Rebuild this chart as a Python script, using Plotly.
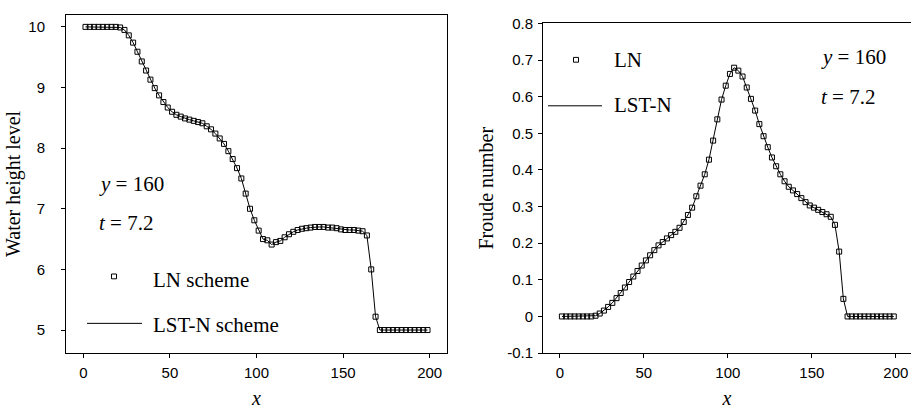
import plotly.graph_objects as go

# ---------------- data ----------------
x_pos = [1.25 + 2.5 * k for k in range(80)]

water_level = [
    10.0, 10.0, 10.0, 10.0, 10.0, 10.0, 10.0, 10.0,          # 1.25 .. 18.75
    9.99, 9.95, 9.86, 9.74, 9.59, 9.43, 9.28, 9.13,           # 21.25 .. 38.75
    8.99, 8.87, 8.76, 8.67, 8.60, 8.55, 8.52, 8.49,           # 41.25 .. 58.75
    8.47, 8.45, 8.43, 8.41, 8.36, 8.31, 8.24, 8.16,           # 61.25 .. 78.75
    8.07, 7.95, 7.82, 7.67, 7.50, 7.25, 7.00, 6.81,           # 81.25 .. 98.75
    6.64, 6.50, 6.48, 6.41, 6.45, 6.47, 6.53, 6.58,           # 101.25 .. 118.75
    6.62, 6.65, 6.67, 6.68, 6.69, 6.70, 6.70, 6.70,           # 121.25 .. 138.75
    6.69, 6.69, 6.68, 6.66, 6.65, 6.65, 6.65, 6.64,           # 141.25 .. 158.75
    6.63, 6.56, 6.00, 5.22, 5.0, 5.0, 5.0, 5.0,               # 161.25 .. 178.75
    5.0, 5.0, 5.0, 5.0, 5.0, 5.0, 5.0, 5.0,                   # 181.25 .. 198.75
]

froude = [
    0.0, 0.0, 0.0, 0.0, 0.0, 0.0, 0.0, 0.0,                   # 1.25 .. 18.75
    0.002, 0.008, 0.016, 0.026, 0.037, 0.050, 0.064, 0.079,   # 21.25 .. 38.75
    0.094, 0.109, 0.124, 0.139, 0.153, 0.167, 0.181, 0.194,   # 41.25 .. 58.75
    0.203, 0.213, 0.222, 0.231, 0.242, 0.258, 0.277, 0.297,   # 61.25 .. 78.75
    0.328, 0.357, 0.388, 0.428, 0.480, 0.538, 0.592, 0.630,   # 81.25 .. 98.75
    0.662, 0.679, 0.671, 0.655, 0.625, 0.594, 0.562, 0.525,   # 101.25 .. 118.75
    0.492, 0.462, 0.434, 0.410, 0.388, 0.369, 0.354, 0.344,   # 121.25 .. 138.75
    0.334, 0.323, 0.312, 0.303, 0.297, 0.291, 0.285, 0.279,   # 141.25 .. 158.75
    0.272, 0.250, 0.177, 0.048, 0.0, 0.0, 0.0, 0.0,           # 161.25 .. 178.75
    0.0, 0.0, 0.0, 0.0, 0.0, 0.0, 0.0, 0.0,                   # 181.25 .. 198.75
]

x_ticks = [0, 50, 100, 150, 200]
left_y_ticks = [5, 6, 7, 8, 9, 10]
right_y_ticks = [-0.1, 0, 0.1, 0.2, 0.3, 0.4, 0.5, 0.6, 0.7, 0.8]
right_y_labels = ["-0.1", "0", "0.1", "0.2", "0.3", "0.4", "0.5", "0.6", "0.7", "0.8"]

# ---------------- figure ----------------
W, H = 911, 409
SERIF = "Liberation Serif, Times New Roman, serif"
SANS = "Liberation Sans, Arial, sans-serif"

def px(x):
    return x / W

def py(y):
    return 1 - y / H

fig = go.Figure()

line_style = dict(color="black", width=1)
marker_style = dict(symbol="square-open", size=5, color="black", line=dict(width=1, color="black"))

# Left panel
fig.add_trace(go.Scatter(x=x_pos, y=water_level, mode="lines", line=line_style,
                         xaxis="x", yaxis="y", showlegend=False, hoverinfo="skip"))
fig.add_trace(go.Scatter(x=x_pos, y=water_level, mode="markers", marker=marker_style,
                         xaxis="x", yaxis="y", showlegend=False))
# Right panel
fig.add_trace(go.Scatter(x=x_pos, y=froude, mode="lines", line=line_style,
                         xaxis="x2", yaxis="y2", showlegend=False, hoverinfo="skip"))
fig.add_trace(go.Scatter(x=x_pos, y=froude, mode="markers", marker=marker_style,
                         xaxis="x2", yaxis="y2", showlegend=False))

axis_common = dict(
    showgrid=False, zeroline=False, showline=True, linecolor="black", linewidth=1,
    ticks="outside", ticklen=4, tickwidth=1, tickcolor="black",
    tickfont=dict(family=SANS, size=15, color="black"),
)

fig.update_layout(
    width=W, height=H,
    margin=dict(l=0, r=0, t=0, b=0),
    paper_bgcolor="white", plot_bgcolor="white",
    showlegend=False,
    xaxis=dict(axis_common, domain=[px(66), px(447)], range=[-10, 210], mirror=True,
               tickvals=x_ticks, anchor="y", ticklabelstandoff=2,
               title=dict(text="<i>x</i>", font=dict(family=SERIF, size=20, color="black"), standoff=10)),
    yaxis=dict(axis_common, domain=[py(359), py(6)], range=[4.62, 10.2], mirror=True,
               tickvals=left_y_ticks, anchor="x", ticklabelstandoff=13,
               title=dict(text="Water height level", font=dict(family=SERIF, size=20, color="black"), standoff=2)),
    xaxis2=dict(axis_common, domain=[px(543), 1.0], range=[-10, 209], mirror=True,
                tickvals=x_ticks, anchor="y2", ticklabelstandoff=2,
                title=dict(text="<i>x</i>", font=dict(family=SERIF, size=20, color="black"), standoff=10)),
    yaxis2=dict(axis_common, domain=[py(359), py(15)], range=[-0.1, 0.8],
                tickvals=right_y_ticks, ticktext=right_y_labels, anchor="x2", ticklabelstandoff=2,
                title=dict(text="Froude number", font=dict(family=SERIF, size=20, color="black"), standoff=8)),
)

# ---------------- text annotations & hand legends ----------------
txt_font = dict(family=SERIF, size=21, color="black")

def add_text(x, y, text):
    fig.add_annotation(xref="paper", yref="paper", x=px(x), y=py(y), text=text,
                       showarrow=False, xanchor="left", yanchor="middle", font=txt_font)

# Left panel labels
add_text(97, 183, "<i>y</i> = 160")
add_text(97, 223, "<i>t</i> = 7.2")
add_text(151, 283, "LN scheme")
add_text(151, 330, "LST-N scheme")
# Right panel labels
add_text(612, 53, "LN")
add_text(612, 100, "LST-N")
add_text(819, 50, "<i>y</i> = 160")
add_text(819, 92, "<i>t</i> = 7.2")

# legend glyphs
def add_square(cx, cy, s=5):
    fig.add_shape(type="rect", xref="paper", yref="paper",
                  x0=px(cx - s / 2), x1=px(cx + s / 2), y0=py(cy + s / 2), y1=py(cy - s / 2),
                  line=dict(color="black", width=1), fillcolor="white")

def add_hline(x0, x1, y):
    fig.add_shape(type="line", xref="paper", yref="paper",
                  x0=px(x0), x1=px(x1), y0=py(y), y1=py(y),
                  line=dict(color="black", width=1))

add_square(114, 279)
add_hline(87, 142, 328)
add_square(576, 53)
add_hline(548, 602, 101)

fig.write_html("out.html")
